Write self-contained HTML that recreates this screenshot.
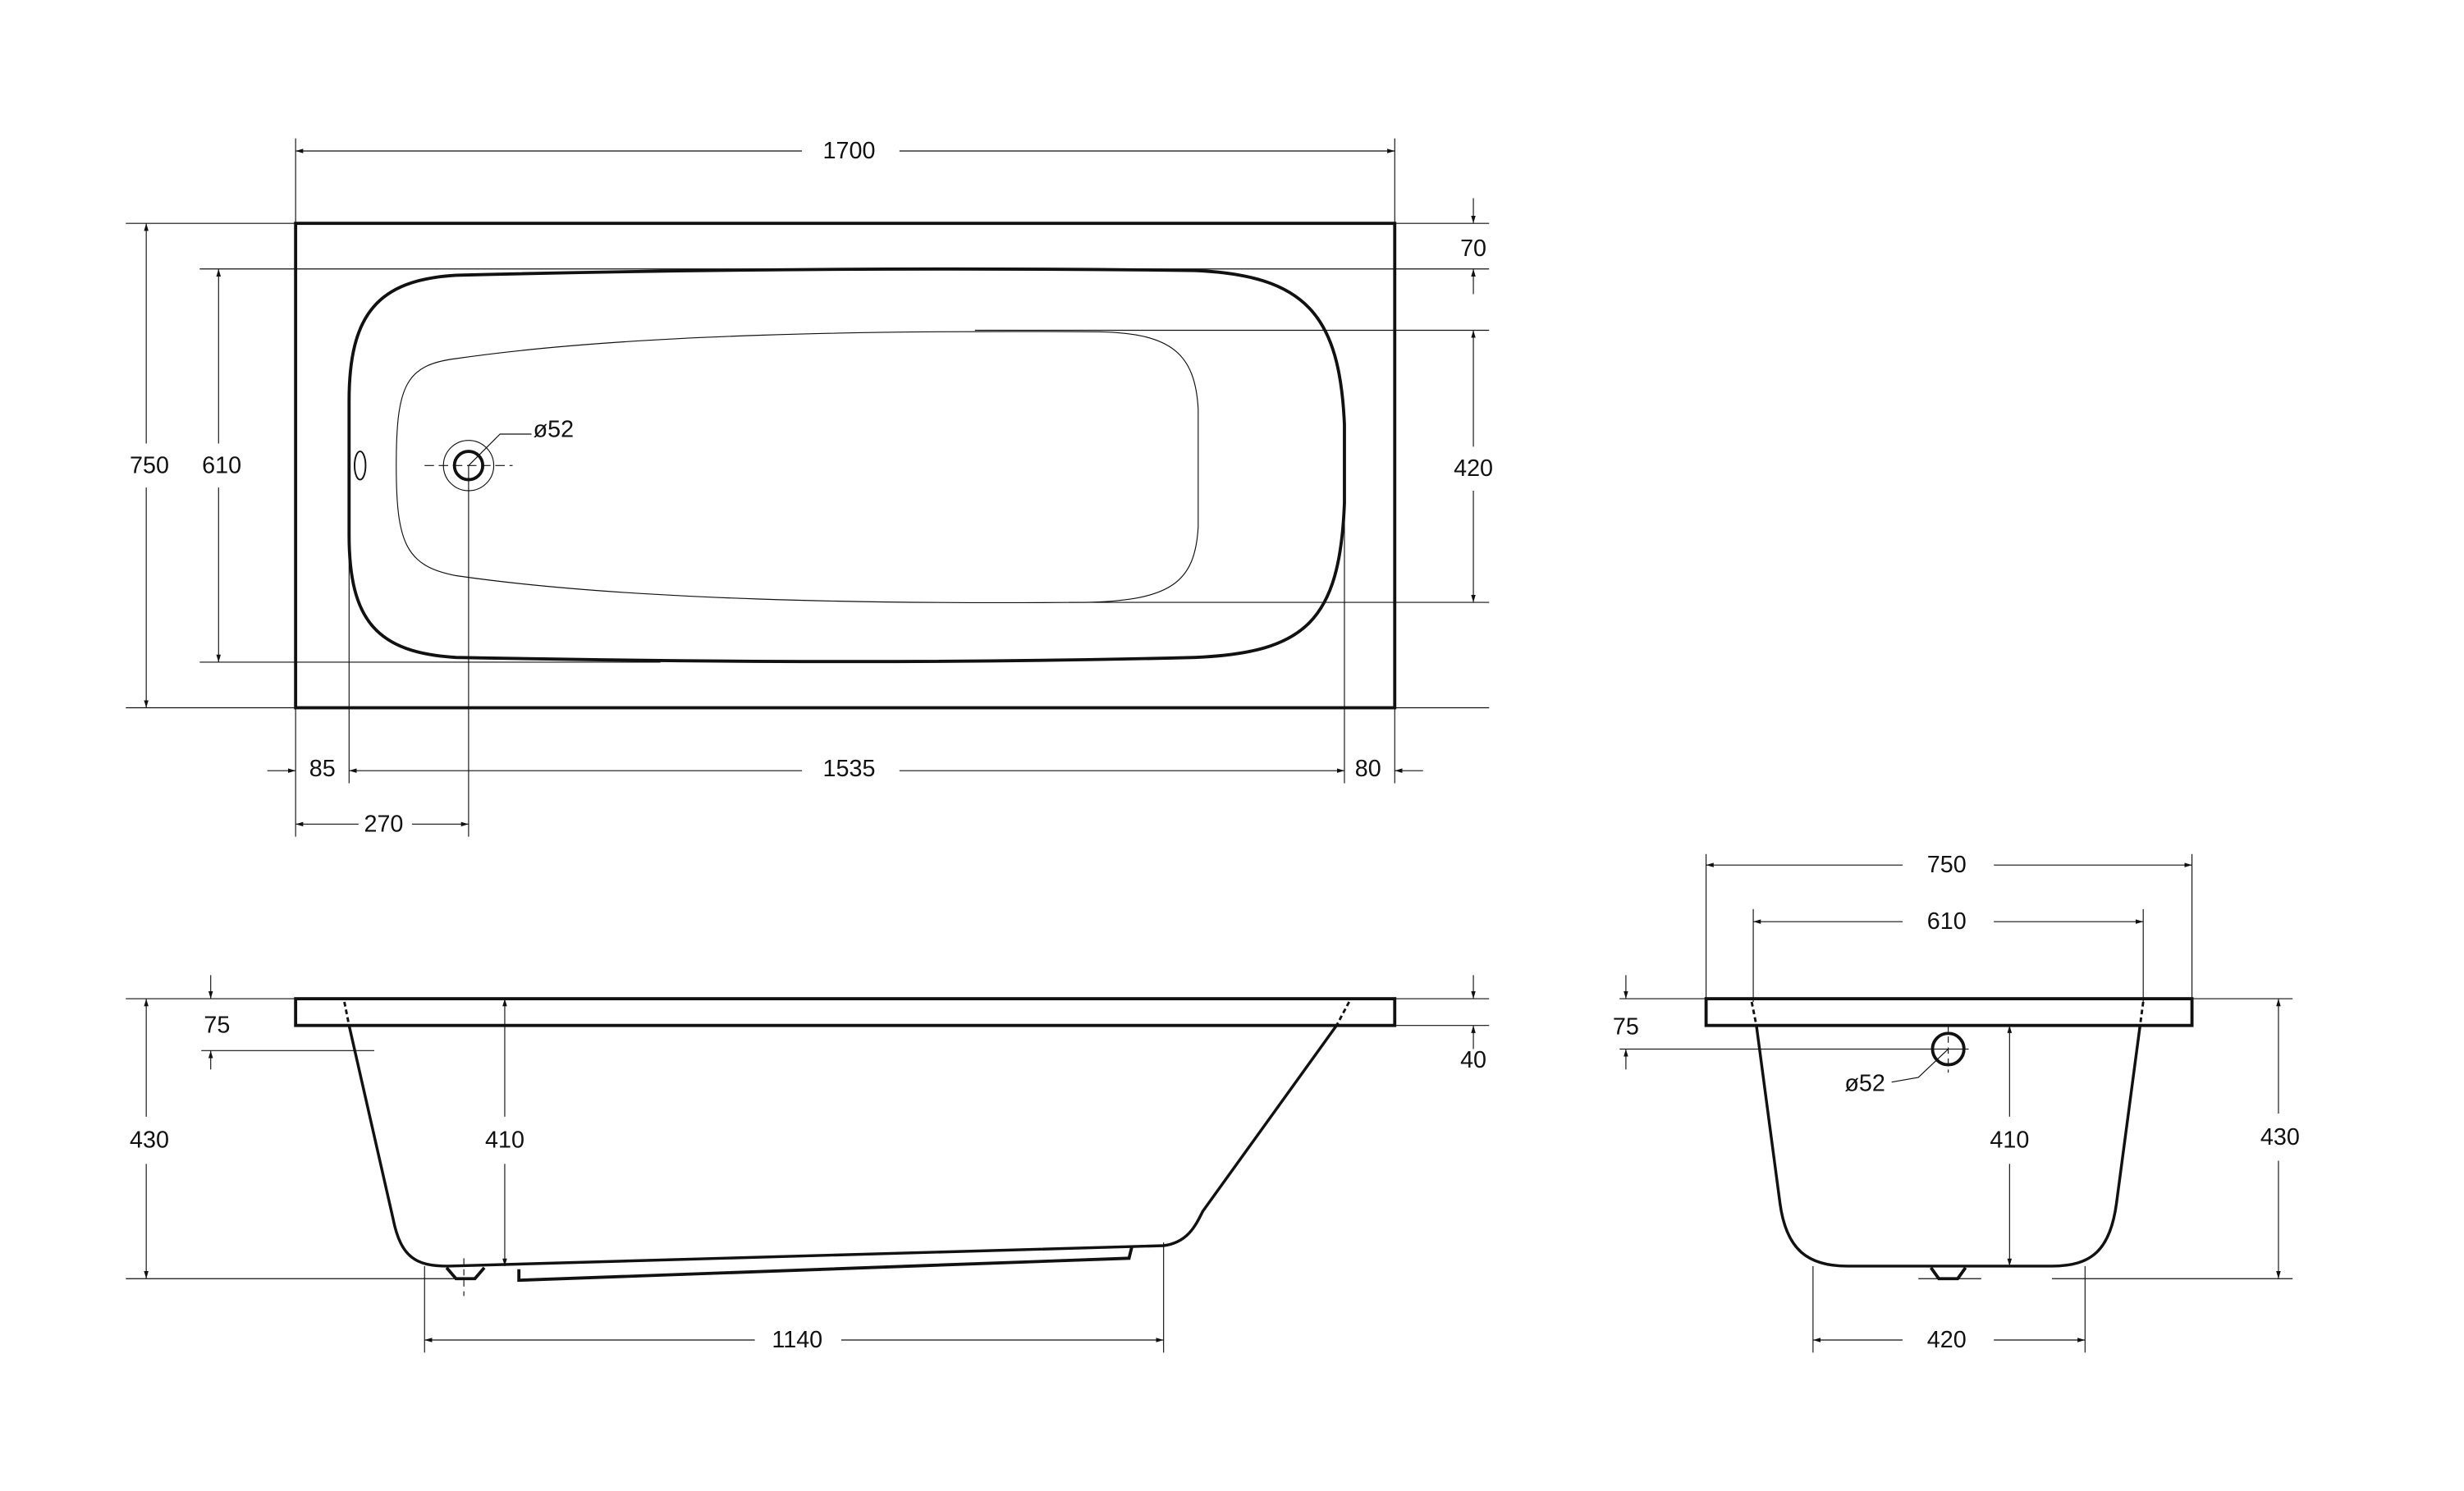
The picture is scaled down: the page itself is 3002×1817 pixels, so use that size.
<!DOCTYPE html>
<html><head><meta charset="utf-8"><style>
html,body{margin:0;padding:0;background:#fff;width:3002px;height:1817px;overflow:hidden}
svg{display:block}
text{font-family:"Liberation Sans",sans-serif;font-size:15px;fill:#111;text-anchor:middle;dominant-baseline:central}
.t{stroke:#111;stroke-width:0.6;fill:none}
.k{stroke:#111;stroke-width:2;fill:none}
.m{stroke:#111;stroke-width:1;fill:none}
</style></head><body>
<svg width="3002" height="1817" viewBox="0 0 1567 948" preserveAspectRatio="none" xmlns="http://www.w3.org/2000/svg">
<defs><marker id="a" viewBox="0 0 10 6" refX="10" refY="3" markerWidth="8" markerHeight="5" orient="auto-start-reverse"><path d="M0,0L10,3L0,6" fill="#111"/></marker></defs>
<g class="t">
<line x1="188" y1="88" x2="188" y2="142"/><line x1="887" y1="88" x2="887" y2="142"/>
<line x1="80" y1="142" x2="188" y2="142"/><line x1="887" y1="142" x2="947" y2="142"/>
<line x1="80" y1="450" x2="188" y2="450"/><line x1="887" y1="450" x2="947" y2="450"/>
<line x1="127" y1="171" x2="947" y2="171"/>
<line x1="127" y1="421" x2="420" y2="421"/>
<line x1="620" y1="210" x2="947" y2="210"/>
<line x1="680" y1="383" x2="947" y2="383"/>
<line x1="188" y1="450" x2="188" y2="532"/><line x1="222" y1="300" x2="222" y2="498"/>
<line x1="855" y1="300" x2="855" y2="498"/><line x1="887" y1="450" x2="887" y2="498"/>
<line x1="298" y1="296" x2="298" y2="532"/>
<line x1="188" y1="96" x2="510" y2="96" marker-start="url(#a)"/><line x1="572" y1="96" x2="887" y2="96" marker-end="url(#a)"/>
<line x1="93" y1="142" x2="93" y2="282" marker-start="url(#a)"/><line x1="93" y1="310" x2="93" y2="450" marker-end="url(#a)"/>
<line x1="139" y1="171" x2="139" y2="282" marker-start="url(#a)"/><line x1="139" y1="310" x2="139" y2="421" marker-end="url(#a)"/>
<line x1="937" y1="126" x2="937" y2="142" marker-end="url(#a)"/><line x1="937" y1="187" x2="937" y2="171" marker-end="url(#a)"/>
<line x1="937" y1="210" x2="937" y2="284" marker-start="url(#a)"/><line x1="937" y1="312" x2="937" y2="383" marker-end="url(#a)"/>
<line x1="170" y1="490" x2="188" y2="490" marker-end="url(#a)"/>
<line x1="222" y1="490" x2="510" y2="490" marker-start="url(#a)"/><line x1="572" y1="490" x2="855" y2="490" marker-end="url(#a)"/>
<line x1="905" y1="490" x2="887" y2="490" marker-end="url(#a)"/>
<line x1="188" y1="524" x2="228" y2="524" marker-start="url(#a)"/><line x1="262" y1="524" x2="298" y2="524" marker-end="url(#a)"/>
<circle cx="298" cy="296" r="16"/>
<line x1="270" y1="296" x2="326" y2="296" stroke-dasharray="6 3"/>
<path d="M298,296 L318,276 L338,276"/>
<path d="M290,228 C400,212 560,210 700,211 C745,212 760,225 762,260 L762,335 C760,370 745,382 690,383 C560,384 400,382 290,366 C258,360 252,345 252,296 C252,245 258,232 290,228 Z"/>
<line x1="80" y1="635" x2="188" y2="635"/><line x1="887" y1="635" x2="947" y2="635"/>
<line x1="887" y1="652" x2="947" y2="652"/>
<line x1="80" y1="813" x2="290" y2="813"/>
<line x1="128" y1="668" x2="238" y2="668"/>
<line x1="270" y1="805" x2="270" y2="860"/><line x1="740" y1="790" x2="740" y2="860"/>
<line x1="93" y1="635" x2="93" y2="710" marker-start="url(#a)"/><line x1="93" y1="740" x2="93" y2="813" marker-end="url(#a)"/>
<line x1="134" y1="620" x2="134" y2="635" marker-end="url(#a)"/><line x1="134" y1="680" x2="134" y2="668" marker-end="url(#a)"/>
<line x1="321" y1="635" x2="321" y2="710" marker-start="url(#a)"/><line x1="321" y1="740" x2="321" y2="805" marker-end="url(#a)"/>
<line x1="937" y1="620" x2="937" y2="635" marker-end="url(#a)"/><line x1="937" y1="667" x2="937" y2="652" marker-end="url(#a)"/>
<line x1="270" y1="852" x2="480" y2="852" marker-start="url(#a)"/><line x1="535" y1="852" x2="740" y2="852" marker-end="url(#a)"/>
<line x1="295" y1="800" x2="295" y2="824" stroke-dasharray="4 3"/>
<line x1="1085" y1="543" x2="1085" y2="635"/><line x1="1394" y1="543" x2="1394" y2="635"/>
<line x1="1115" y1="578" x2="1115" y2="637"/><line x1="1363" y1="578" x2="1363" y2="637"/>
<line x1="1030" y1="635" x2="1085" y2="635"/><line x1="1394" y1="635" x2="1458" y2="635"/>
<line x1="1030" y1="667" x2="1252" y2="667"/>
<line x1="1153" y1="805" x2="1153" y2="860"/><line x1="1326" y1="805" x2="1326" y2="860"/>
<line x1="1305" y1="813" x2="1458" y2="813"/><line x1="1220" y1="813" x2="1260" y2="813"/>
<line x1="1085" y1="550" x2="1210" y2="550" marker-start="url(#a)"/><line x1="1268" y1="550" x2="1394" y2="550" marker-end="url(#a)"/>
<line x1="1115" y1="586" x2="1210" y2="586" marker-start="url(#a)"/><line x1="1268" y1="586" x2="1363" y2="586" marker-end="url(#a)"/>
<line x1="1449" y1="635" x2="1449" y2="708" marker-start="url(#a)"/><line x1="1449" y1="738" x2="1449" y2="813" marker-end="url(#a)"/>
<line x1="1278" y1="652" x2="1278" y2="710" marker-start="url(#a)"/><line x1="1278" y1="740" x2="1278" y2="805" marker-end="url(#a)"/>
<line x1="1034" y1="620" x2="1034" y2="635" marker-end="url(#a)"/><line x1="1034" y1="680" x2="1034" y2="667" marker-end="url(#a)"/>
<line x1="1153" y1="852" x2="1210" y2="852" marker-start="url(#a)"/><line x1="1268" y1="852" x2="1326" y2="852" marker-end="url(#a)"/>
<path d="M1239,667 L1220,685 L1203,688"/>
<line x1="1239" y1="652" x2="1239" y2="682" stroke-dasharray="4 3"/>
<path d="M219,637 L222,652" stroke-dasharray="3 2" stroke-width="1.5"/>
<path d="M858,637 L850,652" stroke-dasharray="3 2" stroke-width="1.5"/>
<path d="M1114,637 L1117,652" stroke-dasharray="3 2" stroke-width="1.5"/>
<path d="M1363,637 L1361,652" stroke-dasharray="3 2" stroke-width="1.5"/>
</g>
<g class="k">
<rect x="188" y="142" width="699" height="308"/>
<path d="M290,175 C450,171 600,170 760,172 C830,175 852,200 855,270 L855,320 C852,395 830,415 760,418 C600,422 450,421 290,418 C240,415 222,395 222,340 L222,255 C222,200 240,178 290,175 Z"/>
<circle cx="298" cy="296" r="9"/>
<rect x="188" y="635" width="699" height="17"/>
<path d="M222,652 L250,775 C255,800 265,805 285,805 L740,792 C755,790 760,780 765,770 L850,652" stroke-width="1.8"/>
<path d="M330,807 L330,814 L718,800 L720,792"/>
<path d="M284,806 L290,813 L302,813 L308,806"/>
<rect x="1085" y="635" width="309" height="17"/>
<path d="M1117,652 L1132,765 C1136,795 1150,805 1175,805 L1305,805 C1330,805 1342,795 1346,765 L1361,652" stroke-width="1.8"/>
<circle cx="1239" cy="667" r="10"/>
<path d="M1228,806 L1233,813 L1245,813 L1250,806"/>
</g>
<ellipse cx="229" cy="296" rx="3.5" ry="9" class="m"/>
<text x="540" y="96">1700</text>
<text x="95" y="296">750</text><text x="141" y="296">610</text>
<text x="937" y="158">70</text><text x="937" y="298">420</text>
<text x="205" y="489">85</text><text x="540" y="489">1535</text><text x="870" y="489">80</text>
<text x="244" y="524">270</text><text x="352" y="273">ø52</text>
<text x="95" y="725">430</text><text x="138" y="652">75</text><text x="321" y="725">410</text>
<text x="937" y="674">40</text><text x="507" y="852">1140</text>
<text x="1238" y="550">750</text><text x="1238" y="586">610</text>
<text x="1034" y="653">75</text><text x="1186" y="689">ø52</text>
<text x="1278" y="725">410</text><text x="1450" y="723">430</text><text x="1238" y="852">420</text>
</svg>
</body></html>
